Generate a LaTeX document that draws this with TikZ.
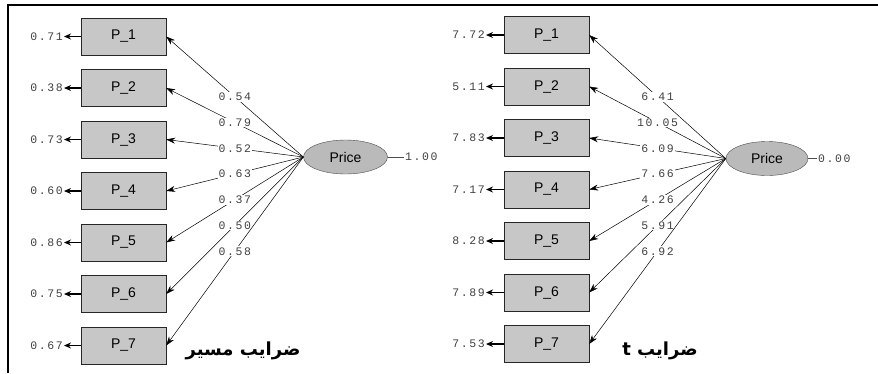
\documentclass[tikz,border=0pt]{standalone}
\usepackage{fontspec}
\setmainfont{Liberation Sans}
\newfontfamily\numfont[LetterSpace=14]{Liberation Mono}
\newfontfamily\farsifont[Script=Arabic]{DejaVu Sans}
\TeXXeTstate=1
\usetikzlibrary{arrows.meta, shapes.geometric}
\tikzset{
  obs/.style ={rectangle, draw=black!85, fill=black!22, minimum width=85pt, minimum height=37pt, inner sep=0pt, font=\fontsize{14}{16}\selectfont},
  lat/.style ={ellipse, draw=black!70, fill=black!27, minimum width=84pt, minimum height=34pt, inner sep=0pt, font=\fontsize{14}{16}\selectfont},
  num/.style ={font=\numfont\fontsize{11.5}{12}\selectfont, text=black!75, inner sep=1pt},
  lbl/.style ={num, fill=white},
  ttl/.style ={font=\farsifont\bfseries\fontsize{18}{20}\selectfont},
  fl/.style  ={-{Stealth[length=9pt, width=6pt]}, line width=0.5pt},
  efl/.style ={-{Stealth[length=7pt, width=6pt]}, line width=1.8pt},
}

\begin{document}
\begin{tikzpicture}[x=1pt, y=-1pt]
  \useasboundingbox (0,0) rectangle (878,373);
  \draw[line width=1.5pt] (8,373) -- (8,5) -- (878,5);
  % path coefficients
  \node[lat] (pr) at (345.5,157) {Price};
  \node[num, anchor=west] (v1) at (404,157) {1.00};
  \draw[line width=0.4pt, black!70] (pr.east) -- (v1.west);
  \foreach \i/\e/\b in {1/0.71/0.54, 2/0.38/0.79, 3/0.73/0.52, 4/0.60/0.63, 5/0.86/0.37, 6/0.75/0.50, 7/0.67/0.58} {
    \node[obs] (p\i) at (123.5,{36.5+51.5*(\i-1)}) {P\_\i};
    \node[num, anchor=east] (e\i) at (64,{36.5+51.5*(\i-1)}) {\e};
    \draw[efl] (p\i.west) -- (e\i.east);
    \draw[fl] (pr.west) -- node[lbl]{\b} (p\i.east);
  }
  \node[ttl] (c1) at (243,351) {\beginR ضرایب مسیر\endR};
  % t values
  \node[lat, minimum width=82pt] (pt) at (767,158.5) {Price};
  \node[num, anchor=west] (v2) at (817,158.5) {0.00};
  \draw[line width=0.4pt, black!70] (pt.east) -- (v2.west);
  \foreach \i/\e/\b in {1/7.72/6.41, 2/5.11/10.05, 3/7.83/6.09, 4/7.17/7.66, 5/8.28/4.26, 6/7.89/5.91, 7/7.53/6.92} {
    \node[obs] (q\i) at (546.5,{35+51.5*(\i-1)}) {P\_\i};
    \node[num, anchor=east] (f\i) at (486,{35+51.5*(\i-1)}) {\e};
    \draw[efl] (q\i.west) -- (f\i.east);
    \draw[fl] (pt.west) -- node[lbl]{\b} (q\i.east);
  }
  \node[ttl] (c2) at (660,351) {\beginR ضرایب t\endR};
\end{tikzpicture}
\end{document}
